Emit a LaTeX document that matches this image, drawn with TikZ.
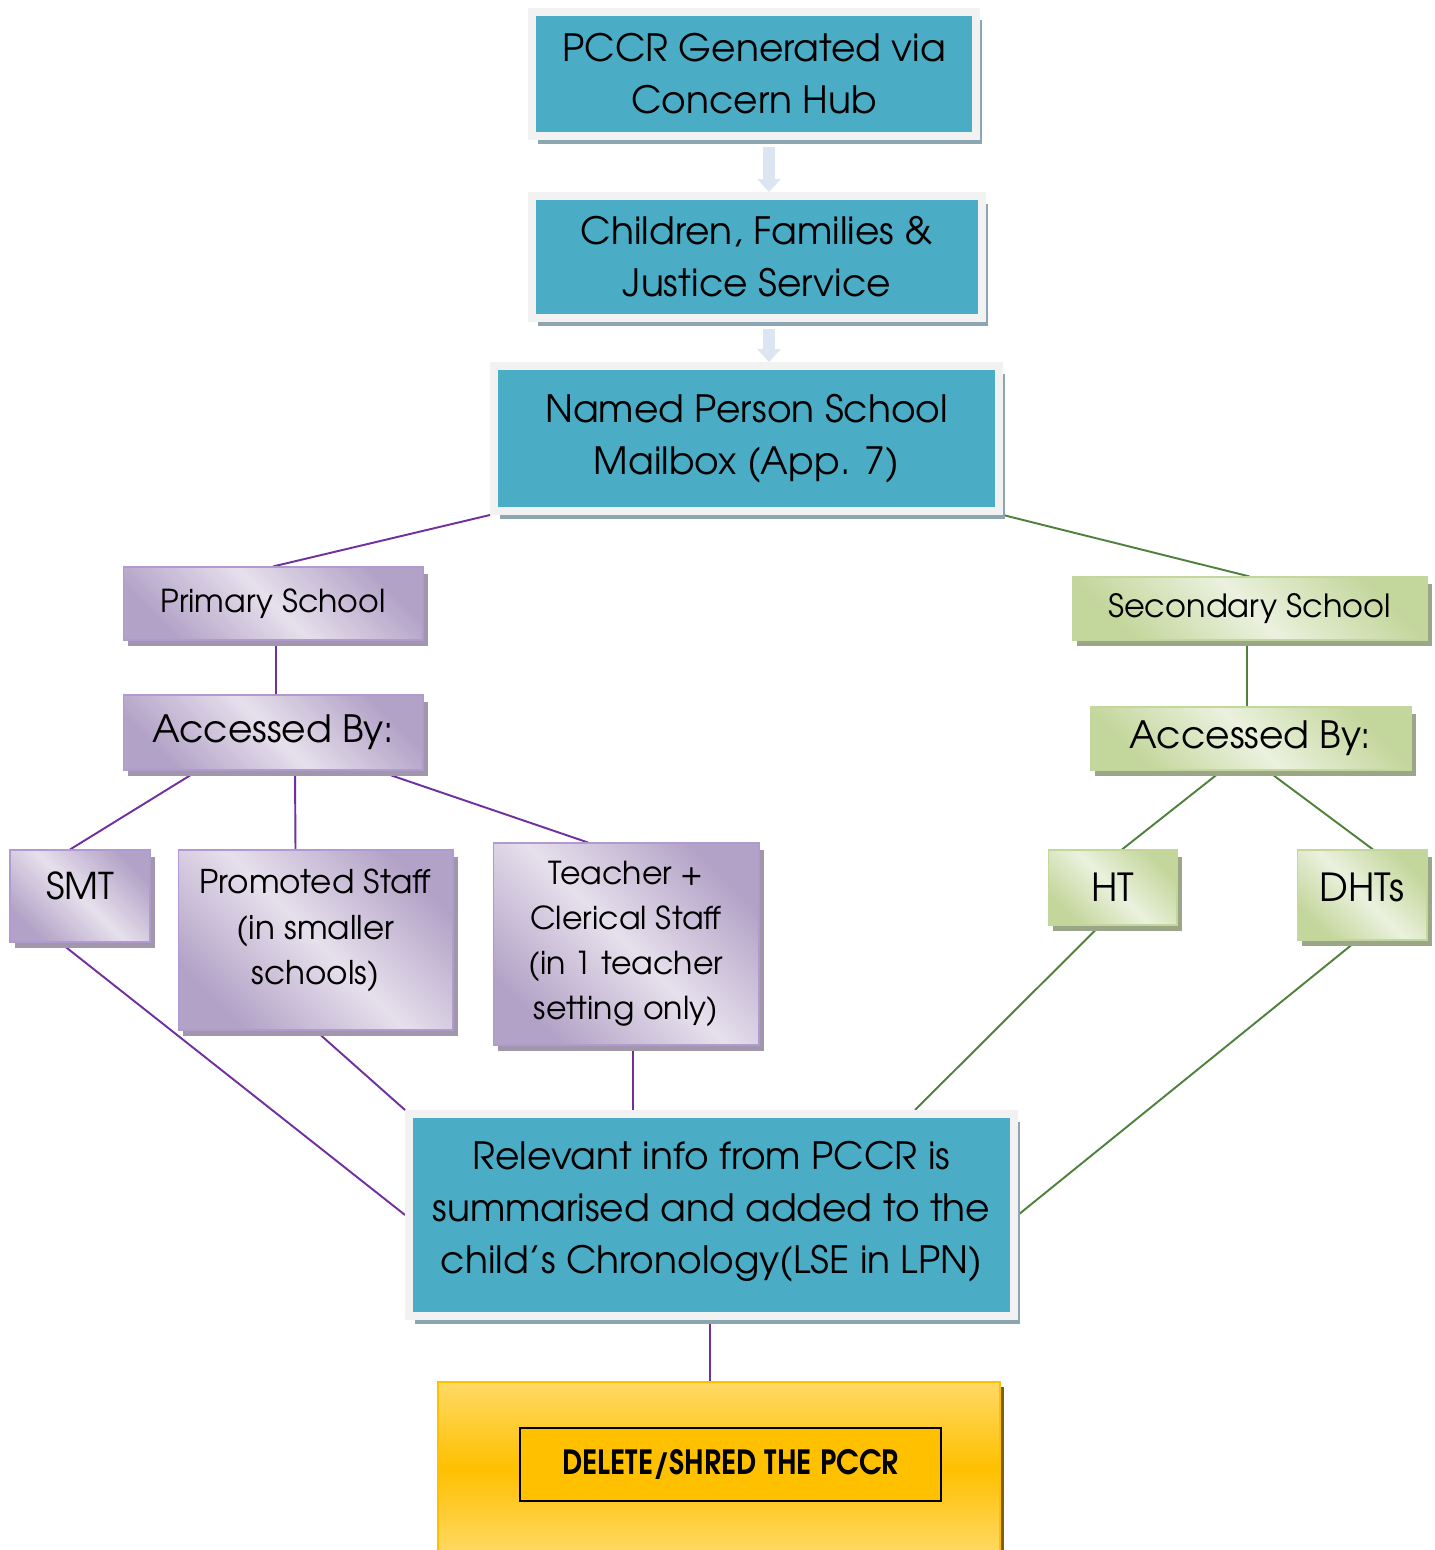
\documentclass[tikz,border=0pt]{standalone}
\usepackage{fontspec}
\setmainfont{texgyreadventor}[Extension=.otf,UprightFont=*-regular,BoldFont=*-bold]
\newfontfamily\shredfont{texgyreadventor-bold.otf}[FakeStretch=0.87]
\usetikzlibrary{shadows,backgrounds,arrows.meta}

\definecolor{tealfill}{RGB}{75,172,198}
\definecolor{tealframe}{RGB}{242,242,242}
\definecolor{tealshade}{RGB}{139,166,176}
\definecolor{arrowblue}{RGB}{220,230,242}
\definecolor{purpledark}{RGB}{179,162,199}
\definecolor{purplelight}{RGB}{230,224,236}
\definecolor{purpleedge}{RGB}{176,154,208}
\definecolor{purpleshade}{RGB}{160,152,170}
\definecolor{purpleline}{RGB}{112,48,160}
\definecolor{greendark}{RGB}{195,214,155}
\definecolor{greenlight}{RGB}{235,241,222}
\definecolor{greenshade}{RGB}{155,165,135}
\definecolor{greenline}{RGB}{79,129,61}
\definecolor{yellowlight}{RGB}{255,217,102}
\definecolor{yellowmid}{RGB}{255,192,0}
\definecolor{yellowshade}{RGB}{128,96,0}

\begin{document}
\begin{tikzpicture}[x=0.02cm,y=-0.02cm,
	tealbox/.style={draw=tealframe,line width=0.16cm,fill=tealfill,inner sep=0pt,align=center,
		font=\fontsize{21.4}{29.5}\selectfont,
		drop shadow={fill=tealshade,opacity=1,shadow xshift=0.12cm,shadow yshift=-0.16cm}},
	purplebox/.style={draw=purpleedge,line width=0.6pt,top color=purpledark,bottom color=purpledark,
		middle color=purplelight,shading angle=-45,inner sep=0pt,align=center,
		drop shadow={fill=purpleshade,opacity=1,shadow xshift=0.1cm,shadow yshift=-0.13cm}},
	greenbox/.style={draw=greendark,line width=0.6pt,top color=greendark,bottom color=greendark,
		middle color=greenlight,shading angle=-45,inner sep=0pt,align=center,
		drop shadow={fill=greenshade,opacity=1,shadow xshift=0.1cm,shadow yshift=-0.13cm}},
	yellowbox/.style={draw=yellowmid,line width=0.8pt,top color=yellowlight,bottom color=yellowlight,
		middle color=yellowmid,inner sep=0pt,
		drop shadow={fill=yellowshade,opacity=1,shadow xshift=0.09cm,shadow yshift=-0.09cm}},
	shredbox/.style={draw=black,line width=1pt,fill=yellowmid,inner sep=0pt},
	fatarrow/.style={draw=arrowblue,line width=0.24cm,-{Triangle[width=0.46cm,length=0.26cm]},shorten <=0.14cm},
	pline/.style={draw=purpleline,line width=1.1pt},
	gline/.style={draw=greenline,line width=1.1pt}]

	\useasboundingbox (0,0) rectangle (1434,1550);

	\node[tealbox,minimum width=8.88cm,minimum height=2.48cm] (gen) at (754,74) {PCCR Generated via\\Concern Hub};
	\node[tealbox,minimum width=9cm,minimum height=2.44cm] (cfj) at (757,257) {Children, Families \&\\Justice Service};
	\node[tealbox,minimum width=10.1cm,minimum height=2.9cm] (np) at (746.5,438.5) {Named Person School\\Mailbox (App. 7)};

	\node[purplebox,minimum width=6cm,minimum height=1.46cm,font=\fontsize{18}{24}\selectfont] (ps) at (273,603.5) {Primary School};
	\node[purplebox,minimum width=6cm,minimum height=1.5cm,font=\fontsize{21.4}{28}\selectfont] (pa) at (273,732.5) {Accessed By:};
	\node[purplebox,minimum width=2.8cm,minimum height=1.84cm,font=\fontsize{21}{28}\selectfont,text depth=0.4cm] (smt) at (80,896) {SMT};
	\node[purplebox,minimum width=5.5cm,minimum height=3.6cm,font=\fontsize{18.6}{26}\selectfont,text depth=0.52cm] (prom) at (315.5,940) {Promoted Staff\\(in smaller\\schools)};
	\node[purplebox,minimum width=5.32cm,minimum height=4.04cm,font=\fontsize{18}{25.5}\selectfont] (tch) at (626,944) {Teacher +\\Clerical Staff\\(in 1 teacher\\setting only)};

	\node[greenbox,minimum width=7.1cm,minimum height=1.26cm,font=\fontsize{18.2}{24}\selectfont] (ss) at (1249.5,608.5) {Secondary School};
	\node[greenbox,minimum width=6.42cm,minimum height=1.26cm,font=\fontsize{21.4}{28}\selectfont] (sa) at (1250.5,738.5) {Accessed By:};
	\node[greenbox,minimum width=2.58cm,minimum height=1.5cm,font=\fontsize{22}{28}\selectfont] (ht) at (1112.5,887.5) {HT};
	\node[greenbox,minimum width=2.6cm,minimum height=1.8cm,font=\fontsize{22}{28}\selectfont,text depth=0.32cm] (dht) at (1362,895) {DHTs};

	\node[tealbox,minimum width=12.1cm,minimum height=4.04cm,text depth=0.3cm] (rel) at (711.5,1215) {Relevant info from PCCR is\\summarised and added to the\\child’s Chronology(LSE in LPN)};

	\node[yellowbox,minimum width=11.24cm,minimum height=3.46cm] (yel) at (719,1468.5) {};
	\node[shredbox,minimum width=8.42cm,minimum height=1.46cm] (shred) at (730.5,1464.5) {\fontsize{19}{24}\shredfont DELETE/SHRED THE PCCR};

	\draw[fatarrow] ([xshift=0.3cm]gen.south) -- ([xshift=0.3cm]gen.south |- cfj.north);
	\draw[fatarrow] ([xshift=0.24cm]cfj.south) -- ([xshift=0.24cm]cfj.south |- np.north);

	\begin{scope}[on background layer]
		% primary side
		\draw[pline] (np.south west) -- (ps.north);
		\draw[pline] ([xshift=0.06cm]ps.south) -- ([xshift=0.06cm]ps.south |- pa.north);
		\draw[pline] ([xshift=-1.5cm]pa.south) -- ([xshift=-0.2cm]smt.north);
		\draw[pline] ([xshift=0.44cm]pa.south) -- ([xshift=-0.4cm]prom.north);
		\draw[pline] ([xshift=2.08cm]pa.south) -- ([xshift=-0.76cm]tch.north);
		\draw[pline] ([xshift=-0.4cm]smt.south) -- (rel.west);
		\draw[pline] (prom.south) -- (rel.north west);
		\draw[pline] ([xshift=0.14cm]tch.south) -- ([xshift=0.14cm]tch.south |- rel.north);
		\draw[pline] ([xshift=-0.03cm]rel.south) -- ([xshift=-0.03cm]rel.south |- yel.north);
		% secondary side
		\draw[gline] (np.south east) -- (ss.north);
		\draw[gline] ([xshift=-0.05cm]ss.south) -- ([xshift=-0.05cm]ss.south |- sa.north);
		\draw[gline] ([xshift=-0.57cm]sa.south) -- ([xshift=0.19cm]ht.north);
		\draw[gline] ([xshift=0.33cm]sa.south) -- ([xshift=0.22cm]dht.north);
		\draw[gline] ([xshift=-0.25cm]ht.south) -- ([xshift=4.07cm]rel.north);
		\draw[gline] ([xshift=-0.1cm]dht.south) -- (rel.east);
	\end{scope}

\end{tikzpicture}
\end{document}
